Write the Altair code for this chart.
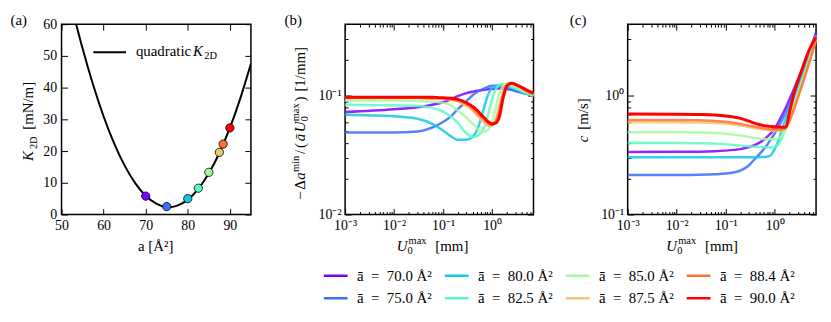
import altair as alt
import pandas as pd

FONT = "Liberation Serif"

# ---------------- data ----------------
series = ["70.0", "75.0", "80.0", "82.5", "85.0", "87.5", "88.4", "90.0"]
a_bar = [70.0, 75.0, 80.0, 82.5, 85.0, 87.5, 88.4, 90.0]
colors = ["#8000ff", "#376ff9", "#12c8e6", "#5bf9c7", "#a4f99f", "#edc86f", "#ff6f39", "#ff0000"]

# panel (a): quadratic K2D curve and the marked points
curve_a = [53, 55, 57.5, 60, 62.5, 65, 67.5, 70, 72.5, 75, 77.5, 80, 82.5, 85, 87.5, 90, 92.5, 95]
curve_K = [62.5, 52.3, 40.9, 30.9, 22.4, 15.4, 9.9, 5.9, 3.4, 2.3, 2.8, 4.7, 8.1, 13.0, 19.4, 27.3, 36.7, 47.5]
point_K = [5.8, 2.5, 5.0, 8.3, 13.3, 19.6, 22.2, 27.3]

# panels (b), (c): common U0max grid [mm]
U = [0.001, 0.01, 0.03, 0.06, 0.1, 0.15, 0.2, 0.3, 0.4, 0.5, 0.6, 0.7, 0.8, 0.9,
     1.0, 1.2, 1.4, 1.7, 2.0, 2.5, 3.5, 5.0, 7.0]

b70 = [0.073, 0.077, 0.080, 0.084, 0.088, 0.094, 0.099, 0.105, 0.108, 0.110, 0.111, 0.112, 0.113, 0.114, 0.114, 0.115, 0.115, 0.115, 0.114, 0.112, 0.108, 0.104, 0.100]
b75 = [0.049, 0.049, 0.050, 0.054, 0.060, 0.068, 0.077, 0.090, 0.101, 0.108, 0.112, 0.115, 0.118, 0.120, 0.121, 0.121, 0.120, 0.118, 0.116, 0.113, 0.108, 0.104, 0.100]
b80 = [0.069, 0.067, 0.064, 0.058, 0.051, 0.045, 0.0425, 0.0425, 0.045, 0.052, 0.065, 0.082, 0.098, 0.110, 0.116, 0.121, 0.123, 0.122, 0.120, 0.116, 0.110, 0.104, 0.100]
b82 = [0.084, 0.083, 0.082, 0.079, 0.0735, 0.066, 0.059, 0.048, 0.045, 0.046, 0.049, 0.055, 0.066, 0.079, 0.093, 0.114, 0.123, 0.125, 0.124, 0.119, 0.112, 0.105, 0.100]
b85 = [0.091, 0.091, 0.090, 0.089, 0.087, 0.082, 0.075, 0.065, 0.058, 0.053, 0.050, 0.050, 0.051, 0.054, 0.060, 0.080, 0.103, 0.122, 0.127, 0.124, 0.115, 0.107, 0.101]
b87 = [0.095, 0.095, 0.095, 0.094, 0.094, 0.092, 0.089, 0.082, 0.075, 0.068, 0.063, 0.059, 0.056, 0.055, 0.056, 0.064, 0.082, 0.110, 0.125, 0.126, 0.118, 0.109, 0.102]
b88 = [0.096, 0.096, 0.096, 0.095, 0.095, 0.093, 0.091, 0.085, 0.078, 0.071, 0.066, 0.062, 0.059, 0.057, 0.057, 0.061, 0.074, 0.104, 0.123, 0.127, 0.119, 0.110, 0.103]
b90 = [0.097, 0.097, 0.097, 0.097, 0.096, 0.095, 0.093, 0.087, 0.081, 0.075, 0.069, 0.065, 0.061, 0.059, 0.058, 0.059, 0.066, 0.098, 0.120, 0.127, 0.121, 0.112, 0.105]

c70 = [0.336, 0.337, 0.338, 0.341, 0.345, 0.350, 0.355, 0.370, 0.385, 0.405, 0.425, 0.45, 0.475, 0.50, 0.53, 0.60, 0.68, 0.80, 0.93, 1.15, 1.6, 2.3, 3.4]
c75 = [0.215, 0.215, 0.216, 0.218, 0.221, 0.227, 0.234, 0.26, 0.295, 0.325, 0.355, 0.385, 0.42, 0.45, 0.48, 0.55, 0.62, 0.73, 0.85, 1.06, 1.5, 2.2, 3.3]
c80 = [0.303, 0.303, 0.303, 0.303, 0.303, 0.303, 0.303, 0.303, 0.303, 0.304, 0.305, 0.307, 0.312, 0.33, 0.355, 0.42, 0.52, 0.65, 0.78, 0.97, 1.4, 2.1, 3.2]
c82 = [0.40, 0.40, 0.398, 0.395, 0.39, 0.385, 0.38, 0.375, 0.372, 0.37, 0.368, 0.367, 0.367, 0.368, 0.372, 0.39, 0.44, 0.56, 0.70, 0.90, 1.3, 2.0, 3.1]
c85 = [0.493, 0.492, 0.49, 0.485, 0.478, 0.47, 0.462, 0.45, 0.44, 0.435, 0.432, 0.43, 0.43, 0.43, 0.432, 0.44, 0.46, 0.52, 0.64, 0.84, 1.25, 1.95, 3.05]
c87 = [0.598, 0.597, 0.594, 0.588, 0.58, 0.57, 0.56, 0.545, 0.533, 0.524, 0.518, 0.514, 0.51, 0.508, 0.506, 0.505, 0.51, 0.54, 0.62, 0.80, 1.2, 1.9, 3.0]
c88 = [0.625, 0.624, 0.62, 0.613, 0.603, 0.59, 0.578, 0.56, 0.548, 0.538, 0.531, 0.527, 0.523, 0.521, 0.52, 0.518, 0.52, 0.54, 0.61, 0.78, 1.17, 1.85, 2.95]
c90 = [0.70, 0.698, 0.694, 0.687, 0.675, 0.66, 0.645, 0.61, 0.585, 0.57, 0.56, 0.555, 0.552, 0.55, 0.548, 0.545, 0.543, 0.545, 0.72, 1.05, 1.6, 2.4, 3.1]

b_vals = [b70, b75, b80, b82, b85, b87, b88, b90]
c_vals = [c70, c75, c80, c82, c85, c87, c88, c90]

# ticks
a_xticks = [50, 60, 70, 80, 90]
a_yticks = [0, 10, 20, 30, 40, 50, 60]
log_x_major = [0.001, 0.01, 0.1, 1.0]
log_x_minor = [0.002, 0.003, 0.004, 0.005, 0.006, 0.007, 0.008, 0.009,
               0.02, 0.03, 0.04, 0.05, 0.06, 0.07, 0.08, 0.09,
               0.2, 0.3, 0.4, 0.5, 0.6, 0.7, 0.8, 0.9,
               2.0, 3.0, 4.0, 5.0, 6.0]
b_y_major = [0.01, 0.1]
b_y_minor = [0.02, 0.03, 0.04, 0.05, 0.06, 0.07, 0.08, 0.09, 0.2, 0.3]
c_y_major = [0.1, 1.0]
c_y_minor = [0.2, 0.3, 0.4, 0.5, 0.6, 0.7, 0.8, 0.9, 2.0, 3.0]

LOG_LABEL = ("datum.value < 0.0015 ? '10\u207b\u00b3' : datum.value < 0.015 ? '10\u207b\u00b2' : "
             "datum.value < 0.15 ? '10\u207b\u00b9' : '10\u2070'")

W_A, W_B, W_C, H = 191, 190, 190, 192

# ---------------- helpers ----------------
one = pd.DataFrame({"k": [0]})


def txt(t, x, y, size=15, style="normal", angle=0, align="left", baseline="alphabetic"):
    return alt.Chart(one).mark_text(
        text=t, font=FONT, fontSize=size, fontStyle=style, angle=angle,
        align=align, baseline=baseline, color="black"
    ).encode(x=alt.value(x), y=alt.value(y))


def ax(orient, values, size, labels=False, pad=0, expr=None):
    kw = dict(orient=orient, values=values, tickSize={"expr": str(-size)}, labels=labels,
              title=None, domain=False, grid=False, ticks=True, tickColor="black", tickWidth=1)
    if labels:
        kw["labelPadding"] = pad + size
        kw["labelFont"] = FONT
        kw["labelFontSize"] = 14
        kw["labelColor"] = "black"
        kw["labelFlush"] = False
        kw["labelOverlap"] = False
        if expr:
            kw["labelExpr"] = expr
    return alt.Axis(**kw)


color_scale = alt.Scale(domain=series, range=colors)
legend_spec = alt.Legend(
    orient="none", legendX=-23, legendY=246, columns=4, title=None,
    symbolType="stroke", symbolSize=576, symbolStrokeWidth=2.5,
    labelFont=FONT, labelFontSize=15, labelColor="black", labelOffset=8,
    columnPadding=11, rowPadding=7, clipHeight=15,
    labelExpr="'\u0101\u2002=\u2002' + datum.label + ' \u00c5\u00b2'",
)

# ---------------- panel (a) ----------------
df_curve = pd.DataFrame({"a": curve_a, "K": curve_K})
df_pts = pd.DataFrame({"a": a_bar, "K": point_K, "series": series})
xa = alt.Scale(domain=[50, 95], nice=False, zero=False)
ya = alt.Scale(domain=[0, 60], nice=False, zero=False)

curve = alt.Chart(df_curve).mark_line(color="black", strokeWidth=2, clip=True, interpolate="natural").encode(
    x=alt.X("a:Q", scale=xa, axis=ax("bottom", a_xticks, 6, True, 4)),
    y=alt.Y("K:Q", scale=ya, axis=ax("left", a_yticks, 6, True, 5)),
)
curve_mirror = alt.Chart(df_curve).mark_line(opacity=0).encode(
    x=alt.X("a:Q", scale=xa, axis=ax("top", a_xticks, 6)),
    y=alt.Y("K:Q", scale=ya, axis=ax("right", a_yticks, 6)),
)
pts = alt.Chart(df_pts).mark_circle(size=70, stroke="black", strokeWidth=0.8, opacity=1).encode(
    x=alt.X("a:Q", scale=xa, axis=None),
    y=alt.Y("K:Q", scale=ya, axis=None),
    fill=alt.Fill("series:N", scale=alt.Scale(domain=series, range=colors), legend=None),
)
leg_rule = alt.Chart(one).mark_rule(color="black", strokeWidth=2).encode(
    x=alt.value(32), x2=alt.value(65), y=alt.value(28.3))
anchor = alt.Chart(one).mark_point(size=1, opacity=0).encode(x=alt.value(-52), y=alt.value(-13))

panel_a = alt.layer(
    curve, curve_mirror, pts, leg_rule,
    txt("quadratic", 75, 32.5), txt("K", 132.7, 32.5, style="italic"), txt("2D", 144, 35.5, size=10.5),
    txt("(a)", -51.5, 0.5),
    txt("K", -28.5, 138, style="italic", angle=270),
    txt("2D", -25, 126, size=10.5, angle=270),
    txt("[mN/m]", -28.5, 106.5, angle=270),
    txt("a [\u00c5\u00b2]", 95, 228.5, align="center"),
    anchor,
).resolve_axis(x="independent", y="independent").properties(width=W_A, height=H)


# ---------------- panels (b), (c) ----------------
def long_df(vals):
    rows = []
    for s, ys in zip(series, vals):
        for u, v in zip(U, ys):
            rows.append({"U": u, "v": v, "series": s})
    return pd.DataFrame(rows)


def log_panel(df, ydom, ymaj, ymin, legend):
    xs = alt.Scale(type="log", domain=[0.001, 7.0], nice=False)
    ys = alt.Scale(type="log", domain=ydom, nice=False)
    main = alt.Chart(df).mark_line(interpolate="monotone").encode(
        x=alt.X("U:Q", scale=xs, axis=ax("bottom", log_x_major, 6, True, 4, LOG_LABEL)),
        y=alt.Y("v:Q", scale=ys, axis=ax("left", ymaj, 6, True, 4, LOG_LABEL)),
        color=alt.Color("series:N", scale=color_scale, legend=legend),
        strokeWidth=alt.condition("datum.series == '90.0'", alt.value(3), alt.value(2.5)),
        opacity=alt.condition("datum.series == '90.0'", alt.value(1), alt.value(0.85)),
    )
    l2 = alt.Chart(df).mark_line(opacity=0).encode(
        x=alt.X("U:Q", scale=xs, axis=ax("bottom", log_x_minor, 3)),
        y=alt.Y("v:Q", scale=ys, axis=ax("left", ymin, 3)), detail="series:N")
    l3 = alt.Chart(df).mark_line(opacity=0).encode(
        x=alt.X("U:Q", scale=xs, axis=ax("top", log_x_major, 6)),
        y=alt.Y("v:Q", scale=ys, axis=ax("right", ymaj, 6)), detail="series:N")
    l4 = alt.Chart(df).mark_line(opacity=0).encode(
        x=alt.X("U:Q", scale=xs, axis=ax("top", log_x_minor, 3)),
        y=alt.Y("v:Q", scale=ys, axis=ax("right", ymin, 3)), detail="series:N")
    return [main, l2, l3, l4]


def xtitle(x0):
    return [
        txt("U", x0, 228.5, style="italic"),
        txt("max", x0 + 12, 221.5, size=10.5),
        txt("0", x0 + 11, 231.5, size=10.5),
        txt("[mm]", x0 + 39, 228.5),
    ]


df_b = long_df(b_vals)
df_c = long_df(c_vals)

bx = -40.5
panel_b = alt.layer(
    *log_panel(df_b, [0.01, 0.4], b_y_major, b_y_minor, legend_spec),
    txt("(b)", -61, 0.5),
    txt("\u2212", bx, 177, angle=270),
    txt("\u0394", bx, 167, angle=270),
    txt("a", bx, 157, style="italic", angle=270),
    txt("min", bx - 6, 149, size=10.5, angle=270),
    txt("/", bx, 131, angle=270),
    txt("(", bx, 125, angle=270),
    txt("\u0101", bx, 118, style="italic", angle=270),
    txt("U", bx, 109, style="italic", angle=270),
    txt("max", bx - 6, 98, size=10.5, angle=270),
    txt("0", bx + 3, 98, size=10.5, angle=270),
    txt(")", bx, 78, angle=270),
    txt("[1/mm]", bx, 68, angle=270),
    *xtitle(52),
).resolve_axis(x="independent", y="independent").properties(width=W_B, height=H)

panel_c = alt.layer(
    *log_panel(df_c, [0.1, 4.0], c_y_major, c_y_minor, None),
    txt("(c)", -58.3, 0.5),
    txt("c", -40, 119, style="italic", angle=270),
    txt("[m/s]", -40, 106.5, angle=270),
    *xtitle(39),
).resolve_axis(x="independent", y="independent").properties(width=W_C, height=H)

chart = alt.hconcat(panel_a, panel_b, panel_c, spacing=95, bounds="flush").resolve_scale(
    color="independent"
).resolve_legend(color="independent").properties(
    padding=0, background="white"
).configure_view(stroke="black", strokeWidth=1.5).configure_axis(
    labelFont=FONT, labelFontSize=14, labelColor="black"
).configure_text(font=FONT)

chart.save("out.html", embed_options={"renderer": "svg", "actions": False})
